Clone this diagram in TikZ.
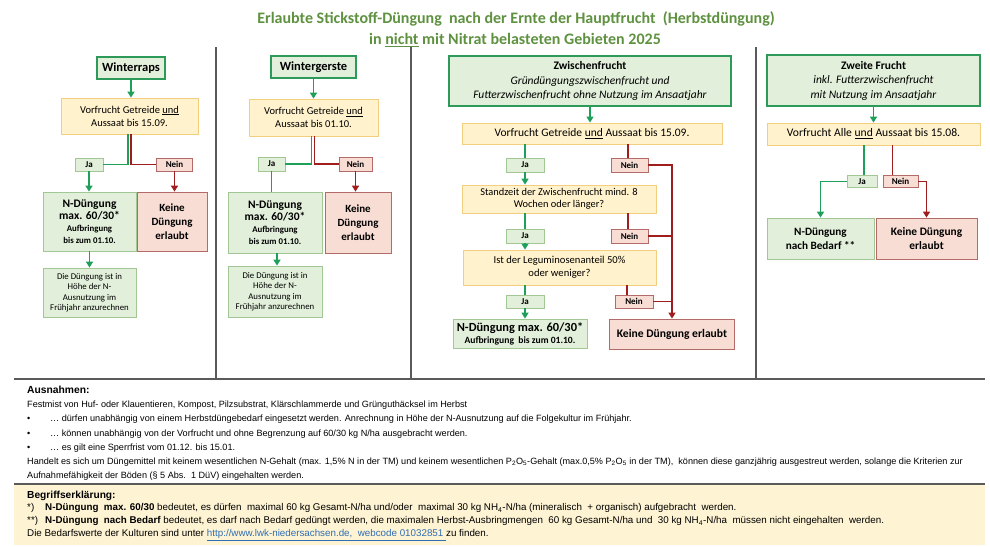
\documentclass[tikz,border=0pt]{standalone}
\usepackage{fontspec}
\setmainfont{Carlito}
\newfontfamily\arialfont{Liberation Sans}
\usetikzlibrary{positioning,calc,arrows.meta}

\definecolor{titelgruen}{HTML}{5E9140}
\definecolor{pfeilgruen}{HTML}{1FA05A}
\definecolor{pfeilrot}{HTML}{A11D1D}
\definecolor{kopfrand}{HTML}{2E9A5A}
\definecolor{gruenfeld}{HTML}{E2EFDA}
\definecolor{gruenrand}{HTML}{A3C794}
\definecolor{gelbfeld}{HTML}{FFF2CC}
\definecolor{gelbrand}{HTML}{F2CF7E}
\definecolor{rotfeld}{HTML}{F8DDD4}
\definecolor{rotrand}{HTML}{B56A6A}
\definecolor{trenngrau}{HTML}{5A5A5A}
\definecolor{hinweisfeld}{HTML}{FEF3D3}
\definecolor{linkblau}{HTML}{2F6DB5}

\begin{document}
\begin{tikzpicture}
[x=1pt,y=-1pt,>={Triangle[length=6pt,width=7pt]},
titel/.style = {inner sep=0pt, text=titelgruen, font=\fontsize{16}{19}\selectfont\bfseries},
kopf/.style = {draw=kopfrand, line width=1.6pt, fill=gruenfeld, inner sep=0pt, align=center, font=\fontsize{11.5}{14.5}\selectfont},
frage/.style = {draw=gelbrand, line width=0.8pt, fill=gelbfeld, inner sep=0pt, align=center, font=\fontsize{10.5}{13}\selectfont},
ja/.style = {draw=gruenrand, line width=0.8pt, fill=gruenfeld, inner sep=0pt, font=\fontsize{9}{10}\selectfont\bfseries},
nein/.style = {draw=rotrand, line width=0.8pt, fill=rotfeld, inner sep=0pt, font=\fontsize{9}{10}\selectfont\bfseries},
duengung/.style = {draw=gruenrand, line width=0.8pt, fill=gruenfeld, inner sep=0pt, align=center, font=\bfseries},
keine/.style = {draw=rotrand, line width=0.8pt, fill=rotfeld, inner sep=0pt, align=center, font=\fontsize{11}{14}\selectfont\bfseries},
anrechnung/.style = {draw=gruenrand, line width=0.8pt, fill=gruenfeld, inner sep=0pt, align=center, font=\fontsize{8.8}{10.5}\selectfont},
glinie/.style = {draw=pfeilgruen, line width=1.8pt},
rlinie/.style = {draw=pfeilrot, line width=1.8pt},
gpfeil/.style = {glinie, ->},
rpfeil/.style = {rlinie, ->},
trenner/.style = {draw=trenngrau, line width=2.4pt},
hinweis/.style = {anchor=west, inner sep=0pt, font=\arialfont\fontsize{9.1}{10}\selectfont},
erklaerung/.style = {anchor=west, inner sep=0pt, font=\arialfont\fontsize{9.8}{11}\selectfont},
]
\useasboundingbox (0,0) rectangle (990,546);

% Titel
\node (t1) at (516,19)[titel] {Erlaubte Stickstoff-Düngung\ \ nach der Ernte der Hauptfrucht\ \ (Herbstdüngung)};
\node (t2) at (515,40)[titel] {in \underline{nicht} mit Nitrat belasteten Gebieten 2025};

% Trennlinien
\draw[trenner] (216,47) -- (216,379);
\draw[trenner] (411,47) -- (411,379);
\draw[trenner] (756,47) -- (756,379);
\draw[trenner] (14,379) -- (985,379);
\fill[hinweisfeld] (14,485) rectangle (985,545);
\draw[trenner] (14,484) -- (985,484);

% Winterraps
\node (wr) at (131,68)[kopf,minimum width=68pt,minimum height=22pt,font=\fontsize{12.5}{14}\selectfont] {\textbf{Winterraps}};
\node (q1) at (129.5,116)[frage,minimum width=137pt,minimum height=36pt] {Vorfrucht Getreide \underline{und}\\Aussaat bis 15.09.};
\node (ja1) at (89,164.5)[ja,minimum width=28pt,minimum height=13pt] {Ja};
\node (nn1) at (174.5,164.5)[nein,minimum width=36pt,minimum height=13pt] {Nein};
\node (nd1) at (89.5,221.5)[duengung,minimum width=93pt,minimum height=59pt] {{\fontsize{11.5}{13}\selectfont N-Düngung}\\{\fontsize{11.5}{13}\selectfont max. 60/30*}\\{\fontsize{8.8}{11}\selectfont Aufbringung}\\{\fontsize{8.8}{11}\selectfont bis zum 01.10.}};
\node (kd1) at (172,221.5)[keine,minimum width=70pt,minimum height=59pt] {Keine\\Düngung\\erlaubt};
\node (an1) at (89.5,292.5)[anrechnung,minimum width=93pt,minimum height=49pt] {Die Düngung ist in\\Höhe der N-\\Ausnutzung im\\Frühjahr anzurechnen};
\draw[gpfeil] (wr.south) -- (wr.south |- q1.north);
\draw[glinie] ([xshift=-1.5pt]q1.south) |- (ja1.east);
\draw[rlinie] ([xshift=1.5pt]q1.south) |- (nn1.west);
\draw[gpfeil] (ja1.south) -- (ja1.south |- nd1.north);
\draw[rpfeil] (nn1.south) -- (nn1.south |- kd1.north);
\draw[gpfeil] (nd1.south) -- (nd1.south |- an1.north);

% Wintergerste
\node (wg) at (313.5,67)[kopf,minimum width=85pt,minimum height=22pt,font=\fontsize{12.5}{14}\selectfont] {\textbf{Wintergerste}};
\node (q2) at (313.5,117.5)[frage,minimum width=129pt,minimum height=37pt] {Vorfrucht Getreide \underline{und}\\Aussaat bis 01.10.};
\node (ja2) at (271.5,164)[ja,minimum width=27pt,minimum height=14pt] {Ja};
\node (nn2) at (355.5,164)[nein,minimum width=33pt,minimum height=14pt] {Nein};
\node (nd2) at (275,222.5)[duengung,minimum width=94pt,minimum height=61pt] {{\fontsize{11.5}{13}\selectfont N-Düngung}\\{\fontsize{11.5}{13}\selectfont max. 60/30*}\\{\fontsize{8.8}{11}\selectfont Aufbringung}\\{\fontsize{8.8}{11}\selectfont bis zum 01.10.}};
\node (kd2) at (358,222.5)[keine,minimum width=66pt,minimum height=61pt] {Keine\\Düngung\\erlaubt};
\node (an2) at (275,291.5)[anrechnung,minimum width=94pt,minimum height=51pt] {Die Düngung ist in\\Höhe der N-\\Ausnutzung im\\Frühjahr anzurechnen};
\draw[gpfeil] (wg.south) -- (wg.south |- q2.north);
\draw[glinie] ([xshift=-2pt]q2.south) |- (ja2.east);
\draw[rlinie] ([xshift=1pt]q2.south) |- (nn2.west);
\draw[glinie] (ja2.south) -- (ja2.south |- nd2.north);
\draw[rpfeil] (nn2.south) -- (nn2.south |- kd2.north);
\draw[gpfeil] ([xshift=2pt]nd2.south) -- ([xshift=2pt]nd2.south |- an2.north);

% Zwischenfrucht
\node (zf) at (590,81)[kopf,minimum width=282pt,minimum height=50pt] {\textbf{Zwischenfrucht}\\\textit{Gründüngungszwischenfrucht und}\\\textit{Futterzwischenfrucht ohne Nutzung im Ansaatjahr}};
\node (q3a) at (592,133.5)[frage,minimum width=260pt,minimum height=21pt,font=\fontsize{11.5}{13}\selectfont] {Vorfrucht Getreide \underline{und} Aussaat bis 15.09.};
\node (ja3a) at (525,165)[ja,minimum width=38pt,minimum height=14pt] {Ja};
\node (nn3a) at (629.5,165)[nein,minimum width=37pt,minimum height=14pt] {Nein};
\node (q3b) at (559,199)[frage,minimum width=194pt,minimum height=28pt,font=\fontsize{10.4}{12.5}\selectfont] {Standzeit der Zwischenfrucht mind. 8\\Wochen oder länger?};
\node (ja3b) at (525,236)[ja,minimum width=38pt,minimum height=14pt] {Ja};
\node (nn3b) at (629.5,236)[nein,minimum width=37pt,minimum height=14pt] {Nein};
\node (q3c) at (559.5,267.5)[frage,minimum width=193pt,minimum height=35pt,font=\fontsize{10.6}{13}\selectfont] {Ist der Leguminosenanteil 50\%\\oder weniger?};
\node (ja3c) at (525,301.5)[ja,minimum width=38pt,minimum height=13pt] {Ja};
\node (nn3c) at (634,301.5)[nein,minimum width=38pt,minimum height=13pt] {Nein};
\node (nd3) at (520,333.5)[duengung,minimum width=134pt,minimum height=29pt] {{\fontsize{12.4}{13.5}\selectfont N-Düngung max. 60/30*}\\{\fontsize{9.6}{10.5}\selectfont Aufbringung\ \ bis zum 01.10.}};
\node (kd3) at (672,334)[keine,minimum width=125pt,minimum height=30pt,font=\fontsize{11.6}{14}\selectfont\bfseries] {Keine Düngung erlaubt};
\draw[gpfeil] (zf.south) -- (zf.south |- q3a.north);
\draw[glinie] (ja3a.north |- q3a.south) -- (ja3a.north);
\draw[gpfeil] (ja3a.south) -- (ja3a.south |- q3b.north);
\draw[glinie] (ja3b.north |- q3b.south) -- (ja3b.north);
\draw[gpfeil] (ja3b.south) -- (ja3b.south |- q3c.north);
\draw[glinie] (ja3c.north |- q3c.south) -- (ja3c.north);
\draw[gpfeil] (ja3c.south) -- (ja3c.south |- nd3.north);
\draw[rlinie] ([xshift=-1.5pt]nn3a.north |- q3a.south) -- ([xshift=-1.5pt]nn3a.north);
\draw[rlinie] ([xshift=-1.5pt]nn3b.north |- q3b.south) -- ([xshift=-1.5pt]nn3b.north);
\draw[rlinie] ([xshift=-7pt]nn3c.north |- q3c.south) -- ([xshift=-7pt]nn3c.north);
\draw[rpfeil] (nn3a.east) -| (kd3.north);
\draw[rlinie] (nn3b.east) -- (nn3b.east -| kd3.north);
\draw[rlinie] (nn3c.east) -- (nn3c.east -| kd3.north);

% Zweite Frucht
\node (zw) at (873.5,80.5)[kopf,minimum width=213pt,minimum height=51pt] {\textbf{Zweite Frucht}\\\textit{inkl. Futterzwischenfrucht}\\\textit{mit Nutzung im Ansaatjahr}};
\node (q4) at (873.5,134)[frage,minimum width=213pt,minimum height=22pt,font=\fontsize{11.6}{13}\selectfont] {Vorfrucht Alle \underline{und} Aussaat bis 15.08.};
\node (ja4) at (862,181.5)[ja,minimum width=30pt,minimum height=12pt] {Ja};
\node (nn4) at (900.5,181.5)[nein,minimum width=35pt,minimum height=12pt] {Nein};
\node (nd4) at (820.5,238.5)[duengung,minimum width=107pt,minimum height=41pt,font=\fontsize{11.2}{14}\selectfont\bfseries] {N-Düngung\\nach Bedarf **};
\node (kd4) at (926.5,238.5)[keine,minimum width=101pt,minimum height=41pt,font=\fontsize{11.4}{14}\selectfont\bfseries] {Keine Düngung\\erlaubt};
\draw[gpfeil] (zw.south) -- (zw.south |- q4.north);
\draw[glinie] ([xshift=2pt]ja4.north |- q4.south) -- ([xshift=2pt]ja4.north);
\draw[gpfeil] (ja4.west) -| (nd4.north);
\draw[rlinie] ([xshift=-8pt]nn4.north |- q4.south) -- ([xshift=-8pt]nn4.north);
\draw[rpfeil] (nn4.east) -| (kd4.north);

% Ausnahmen
\node (au0) at (27,390)[hinweis,font=\arialfont\fontsize{10.3}{11}\selectfont\bfseries] {Ausnahmen:};
\node (au1) at (27,405)[hinweis] {Festmist von Huf- oder Klauentieren, Kompost, Pilzsubstrat, Klärschlammerde und Grünguthäcksel im Herbst};
\node (b1) at (27,419)[hinweis] {•};
\node (au2) at (50,419)[hinweis] {… dürfen unabhängig von einem Herbstdüngebedarf eingesetzt werden. Anrechnung in Höhe der N-Ausnutzung auf die Folgekultur im Frühjahr.};
\node (b2) at (27,434)[hinweis] {•};
\node (au3) at (50,434)[hinweis] {… können unabhängig von der Vorfrucht und ohne Begrenzung auf 60/30 kg N/ha ausgebracht werden.};
\node (b3) at (27,448)[hinweis] {•};
\node (au4) at (50,448)[hinweis] {… es gilt eine Sperrfrist vom 01.12. bis 15.01.};
\node (au5) at (27,462)[hinweis] {Handelt es sich um Düngemittel mit keinem wesentlichen N-Gehalt (max. 1,5\% N in der TM) und keinem wesentlichen P\textsubscript{2}O\textsubscript{5}-Gehalt (max.0,5\% P\textsubscript{2}O\textsubscript{5} in der TM),\ \ können diese ganzjährig ausgestreut werden, solange die Kriterien zur};
\node (au6) at (27,476)[hinweis] {Aufnahmefähigkeit der Böden (§ 5 Abs.\ \ 1 DüV) eingehalten werden.};

% Begriffserklaerung
\node (be0) at (27,496)[erklaerung,font=\arialfont\fontsize{10.2}{11}\selectfont\bfseries] {Begriffserklärung:};
\node (s1) at (27,508)[erklaerung] {*)};
\node (be1) at (45,508)[erklaerung] {\textbf{N-Düngung\ \ max. 60/30} bedeutet,\ es dürfen\ \ maximal 60 kg Gesamt-N/ha und/oder\ \ maximal 30 kg NH\textsubscript{4}-N/ha (mineralisch\ \ + organisch) aufgebracht\ \ werden.};
\node (s2) at (27,521)[erklaerung] {**)};
\node (be2) at (45,521)[erklaerung] {\textbf{N-Düngung\ \ nach Bedarf} bedeutet,\ es darf nach Bedarf gedüngt werden,\ die maximalen Herbst-Ausbringmengen\ \ 60 kg Gesamt-N/ha und\ \ 30 kg NH\textsubscript{4}-N/ha\ \ müssen nicht eingehalten\ \ werden.};
\node (be3) at (27,535)[erklaerung] {Die Bedarfswerte der Kulturen sind unter \textcolor{linkblau}{\underline{http://www.lwk-niedersachsen.de,\ \ webcode 01032851\ }}zu finden.};
\end{tikzpicture}
\end{document}
